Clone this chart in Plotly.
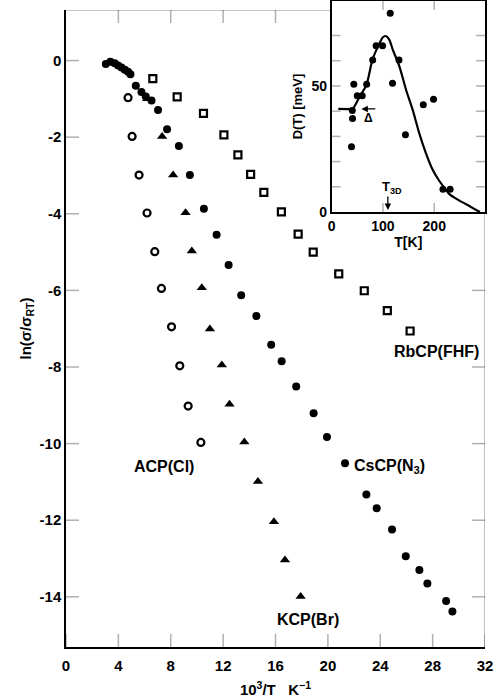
import plotly.graph_objects as go

# ---------------- main panel data ----------------
cscp_x = [3.04, 3.39, 3.72, 3.98, 4.24, 4.49, 4.74, 4.92, 5.33, 5.76, 6.09, 6.53, 7.03,
          7.72, 8.62, 9.46, 10.53, 11.50, 12.42, 13.38, 14.54, 15.67, 16.47, 17.58,
          18.91, 19.93, 21.31, 22.94, 23.73, 24.90, 25.95, 26.99, 27.60, 29.03, 29.51]
cscp_y = [-0.09, -0.03, -0.07, -0.13, -0.18, -0.24, -0.29, -0.36, -0.66, -0.82, -0.94,
          -1.04, -1.29, -1.79, -2.23, -2.99, -3.87, -4.55, -5.34, -6.13, -6.67, -7.42,
          -7.85, -8.51, -9.21, -9.83, -10.51, -11.33, -11.69, -12.24, -12.94, -13.30,
          -13.65, -14.11, -14.38]

acp_x = [4.74, 5.05, 5.58, 6.19, 6.78, 7.29, 8.06, 8.69, 9.33, 10.30]
acp_y = [-0.97, -1.98, -2.99, -3.98, -4.99, -5.95, -6.95, -7.97, -9.02, -9.97]

kcp_x = [6.20, 7.34, 8.18, 9.13, 9.61, 10.37, 10.99, 11.90, 12.49, 13.62, 14.66, 15.88,
         16.72, 17.92]
kcp_y = [-1.00, -1.98, -2.99, -3.97, -4.97, -5.93, -7.01, -7.95, -8.97, -9.96, -10.99,
         -12.04, -13.04, -13.99]

rbcp_x = [6.63, 8.49, 10.50, 12.06, 13.13, 14.10, 15.11, 16.45, 17.73, 18.88, 20.83,
          22.78, 24.54, 26.28]
rbcp_y = [-0.47, -0.95, -1.38, -1.94, -2.46, -2.97, -3.44, -3.95, -4.53, -5.00, -5.57,
          -6.01, -6.53, -7.06]

x_ticks = [0, 4, 8, 12, 16, 20, 24, 28, 32]
x_top_ticks = [4, 8, 12, 16]
y_ticks = [0, -2, -4, -6, -8, -10, -12, -14]
y_ticktext = ["0", "-2", "-4", "-6", "-8", "-10", "-12", "-14"]
y_right_ticks = [-6, -8, -10, -12, -14]

# ---------------- inset data ----------------
ins_T = [114.2, 86.7, 99.3, 80.0, 131.3, 68.3, 118.7, 43.2, 50.0, 59.6, 40.3, 40.7,
         38.7, 143.9, 178.7, 198.6, 217.0, 231.0]
ins_D = [78.8, 65.9, 65.9, 60.3, 60.3, 50.7, 51.1, 50.7, 46.1, 46.1, 40.3, 37.1,
         25.9, 30.6, 42.5, 44.7, 9.0, 9.0]

fit_T = [13.0, 38.7, 41.8, 54.8, 67.8, 79.4, 90.2, 99.9, 105.1, 112.0, 119.3, 132.2,
         145.2, 158.0, 170.9, 183.9, 196.7, 209.7, 220.7, 229.0, 248.4, 270.0, 289.0]
fit_D = [40.9, 40.9, 41.1, 45.8, 50.4, 60.3, 65.6, 69.3, 69.8, 68.5, 64.3, 57.7,
         48.4, 40.5, 31.2, 23.3, 16.9, 12.4, 9.4, 7.2, 4.6, 2.2, 0.0]

ins_xticks = [0, 100, 200]
ins_xticktext = ["0", "100", "200"]
ins_xtickmarks = [100, 200]
ins_yticks = [0, 50]
ins_yticktext = ["0", "50"]
ins_ytickmarks = [10, 20, 30, 40, 50, 60, 70]

T3D = 109.6
DELTA = 40.9

FONT = "Liberation Sans"
BLACK = "black"
W = 600

FIG_W, FIG_H = 495, 698
MARGIN = dict(l=66, r=10, t=0, b=51)
XR = [0, 32]
YR = [-15.31, 1.32]
IXR = [0, 299]
IYR = [0, 83.7]
main_top = 637 / 647
ins_xdom = [0.634, 1.0]
ins_ydom = [0.6723, 0.9985]

# pixel size of plotting area -> tick lengths in data units
plot_w = FIG_W - MARGIN["l"] - MARGIN["r"]
plot_h = FIG_H - MARGIN["t"] - MARGIN["b"]
main_px_x = plot_w / (XR[1] - XR[0])
main_px_y = plot_h * main_top / (YR[1] - YR[0])
ins_px_x = plot_w * (ins_xdom[1] - ins_xdom[0]) / (IXR[1] - IXR[0])
ins_px_y = plot_h * (ins_ydom[1] - ins_ydom[0]) / (IYR[1] - IYR[0])


def add_inward_ticks(fig, xref, yref, xr, yr, bottom, top, left, right,
                     len_px, pxx, pxy):
    """Inward-pointing tick marks drawn as line shapes on the given axes."""
    dx = len_px / pxx
    dy = len_px / pxy
    style = dict(color=BLACK, width=1.5)
    for t in bottom:
        fig.add_shape(type="line", xref=xref, yref=yref, x0=t, x1=t,
                      y0=yr[0], y1=yr[0] + dy, line=style)
    for t in top:
        fig.add_shape(type="line", xref=xref, yref=yref, x0=t, x1=t,
                      y0=yr[1], y1=yr[1] - dy, line=style)
    for v in left:
        fig.add_shape(type="line", xref=xref, yref=yref, x0=xr[0], x1=xr[0] + dx,
                      y0=v, y1=v, line=style)
    for v in right:
        fig.add_shape(type="line", xref=xref, yref=yref, x0=xr[1], x1=xr[1] - dx,
                      y0=v, y1=v, line=style)


fig = go.Figure()

fig.add_trace(go.Scatter(x=rbcp_x, y=rbcp_y, mode="markers",
                         marker=dict(symbol="square-open", size=7, color=BLACK,
                                     line=dict(width=2.2, color=BLACK))))
fig.add_trace(go.Scatter(x=acp_x, y=acp_y, mode="markers",
                         marker=dict(symbol="circle-open", size=7, color=BLACK,
                                     line=dict(width=2.2, color=BLACK))))
fig.add_trace(go.Scatter(x=kcp_x, y=kcp_y, mode="markers",
                         marker=dict(symbol="triangle-up", size=9, color=BLACK,
                                     line=dict(width=0))))
fig.add_trace(go.Scatter(x=cscp_x, y=cscp_y, mode="markers",
                         marker=dict(symbol="circle", size=8, color=BLACK,
                                     line=dict(width=0))))

# inset traces
fig.add_trace(go.Scatter(x=fit_T, y=fit_D, mode="lines", xaxis="x2", yaxis="y2",
                         line=dict(color=BLACK, width=2.2, shape="spline",
                                   smoothing=0.8)))
fig.add_trace(go.Scatter(x=ins_T, y=ins_D, mode="markers", xaxis="x2", yaxis="y2",
                         marker=dict(symbol="circle", size=7, color=BLACK)))

lineax = dict(ticks="", showline=True, linewidth=1.5, linecolor=BLACK,
              showgrid=False, zeroline=False, automargin=False)

fig.update_layout(
    template="simple_white",
    width=FIG_W, height=FIG_H,
    margin=MARGIN,
    paper_bgcolor="white", plot_bgcolor="white",
    showlegend=False,
    font=dict(family=FONT, size=15, color=BLACK, weight=W),
    xaxis=dict(domain=[0, 1], range=XR, tickvals=x_ticks, mirror=False, anchor="y",
               ticklabelstandoff=4,
               title=dict(text="10<sup>3</sup>/T   K<sup>\u22121</sup>",
                          font=dict(size=15, weight=W), standoff=16),
               **lineax),
    yaxis=dict(domain=[0, main_top], range=YR, tickvals=y_ticks,
               ticktext=y_ticktext, mirror=False, anchor="x",
               title=dict(text="ln(\u03c3/\u03c3<sub>RT</sub>)",
                          font=dict(size=15, weight=W), standoff=4),
               **lineax),
    xaxis2=dict(domain=ins_xdom, anchor="y2", range=IXR, tickvals=ins_xticks,
                ticktext=ins_xticktext, mirror=True,
                tickfont=dict(size=14, weight=W),
                title=dict(text="T[K]", font=dict(size=14, weight=W), standoff=2),
                **lineax),
    yaxis2=dict(domain=ins_ydom, anchor="x2", range=IYR, tickvals=ins_yticks,
                ticktext=ins_yticktext, mirror=True,
                tickfont=dict(size=14, weight=W),
                title=dict(text="D(T) [meV]", font=dict(size=13, weight=W),
                           standoff=6),
                **lineax),
)

# tick marks pointing into the frames
add_inward_ticks(fig, "x", "y", XR, YR, x_ticks, x_top_ticks, y_ticks,
                 y_right_ticks, 13, main_px_x, main_px_y)
add_inward_ticks(fig, "x2", "y2", IXR, IYR, ins_xtickmarks, ins_xtickmarks,
                 ins_ytickmarks, ins_ytickmarks, 9, ins_px_x, ins_px_y)

# main frame: top and right lines (interrupted by the inset)
fig.add_shape(type="line", xref="x", yref="y", x0=XR[0], x1=20.3, y0=YR[1],
              y1=YR[1], line=dict(color=BLACK, width=1.5))
fig.add_shape(type="line", xref="x", yref="y", x0=XR[1], x1=XR[1], y0=YR[0],
              y1=-3.95, line=dict(color=BLACK, width=1.5))

# series labels
labels = [
    ("CsCP(N<sub>3</sub>)", 24.70, -10.59),
    ("RbCP(FHF)", 28.32, -7.60),
    ("ACP(Cl)", 7.45, -10.60),
    ("KCP(Br)", 18.50, -14.58),
]
for txt, lx, ly in labels:
    fig.add_annotation(x=lx, y=ly, xref="x", yref="y", text=txt, showarrow=False,
                       font=dict(size=16, family=FONT, color=BLACK, weight=W),
                       xanchor="center", yanchor="middle")

# inset annotations: T3D arrow and Delta marker
fig.add_annotation(x=T3D, y=0.8, xref="x2", yref="y2", ax=T3D, ay=6.8,
                   axref="x2", ayref="y2", text="", showarrow=True, arrowhead=2,
                   arrowsize=1, arrowwidth=1.3, arrowcolor=BLACK)
fig.add_annotation(x=T3D + 9, y=9.9, xref="x2", yref="y2",
                   text="T<sub>3D</sub>", showarrow=False,
                   font=dict(size=13, family=FONT, color=BLACK, weight=W))
fig.add_annotation(x=58, y=DELTA, xref="x2", yref="y2", ax=88, ay=DELTA,
                   axref="x2", ayref="y2", text="", showarrow=True, arrowhead=2,
                   arrowsize=1, arrowwidth=1.3, arrowcolor=BLACK)
fig.add_annotation(x=71, y=37.4, xref="x2", yref="y2", text="\u0394",
                   showarrow=False, font=dict(size=12, family=FONT, color=BLACK,
                                              weight=W))

fig.write_html("out.html", config={"displayModeBar": False},
               post_script="document.body.style.margin='0px';"
                           "document.body.style.overflow='hidden';")
